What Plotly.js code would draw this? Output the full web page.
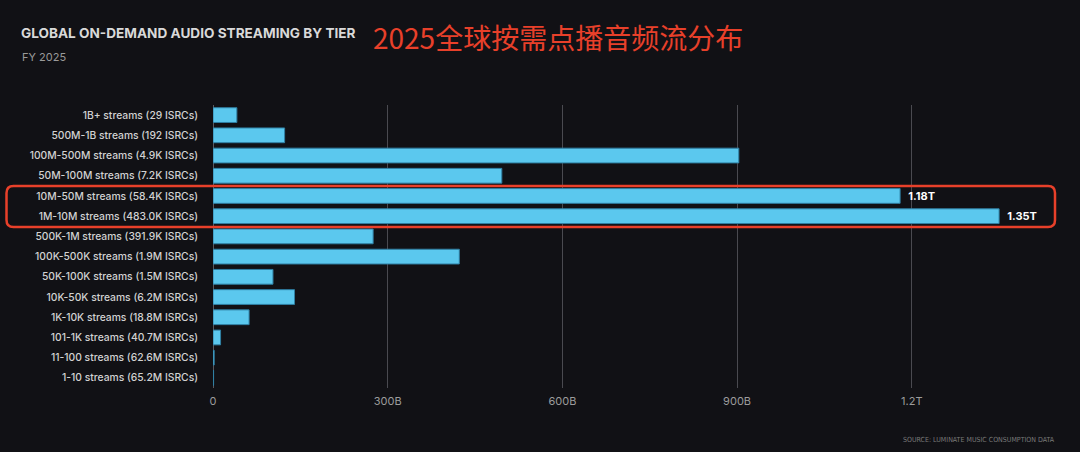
<!DOCTYPE html>
<html>
<head>
<meta charset="utf-8">
<script src="https://cdn.plot.ly/plotly-3.0.1.min.js"></script>
<style>
html,body{margin:0;padding:0;background:#111115;}
#chart{width:1080px;height:452px;}
</style>
</head>
<body>
<div id="chart"></div>
<script>
const tiers = [
  "1B+ streams (29 ISRCs)",
  "500M-1B streams (192 ISRCs)",
  "100M-500M streams (4.9K ISRCs)",
  "50M-100M streams (7.2K ISRCs)",
  "10M-50M streams (58.4K ISRCs)",
  "1M-10M streams (483.0K ISRCs)",
  "500K-1M streams (391.9K ISRCs)",
  "100K-500K streams (1.9M ISRCs)",
  "50K-100K streams (1.5M ISRCs)",
  "10K-50K streams (6.2M ISRCs)",
  "1K-10K streams (18.8M ISRCs)",
  "101-1K streams (40.7M ISRCs)",
  "11-100 streams (62.6M ISRCs)",
  "1-10 streams (65.2M ISRCs)"
];
// on-demand audio streams (billions)
const streamsB = [41, 123, 903, 496, 1180, 1350, 275, 423, 103, 140, 62, 13, 2, 1];
const valueLabels = ["", "", "", "", "1.18T", "1.35T", "", "", "", "", "", "", "", ""];
const tickVals = [0, 300, 600, 900, 1200];
const tickText = ["0", "300B", "600B", "900B", "1.2T"];

const streams = streamsB.map(v => v * 1e9);
const tv = tickVals.map(v => v * 1e9);

// plot area geometry (px)
const L = 213, R = 40, T = 105, B = 64, W = 1080, H = 452;
const pw = W - L - R, ph = H - T - B;
const px = x => (x - L) / pw;
const py = y => (H - B - y) / ph;

// rounded highlight box
function roundRect(x0, y0, x1, y1, r) {
  const rx = r / pw, ry = r / ph;
  const a = px(x0), b = px(x1), top = py(y0), bot = py(y1);
  return `M ${a + rx} ${top} L ${b - rx} ${top} Q ${b} ${top} ${b} ${top - ry} ` +
         `L ${b} ${bot + ry} Q ${b} ${bot} ${b - rx} ${bot} ` +
         `L ${a + rx} ${bot} Q ${a} ${bot} ${a} ${bot + ry} ` +
         `L ${a} ${top - ry} Q ${a} ${top} ${a + rx} ${top} Z`;
}

const trace = {
  type: "bar",
  orientation: "h",
  y: tiers,
  x: streams,
  text: valueLabels,
  texttemplate: "  %{text}",
  textposition: "outside",
  cliponaxis: false,
  textfont: {family: "Inter, sans-serif", size: 11, color: "#ffffff", weight: 700},
  marker: {color: "#5BC8EE", line: {color: "#2f7fa3", width: 1}},
  hoverinfo: "x+y"
};

const layout = {
  width: W, height: H,
  paper_bgcolor: "#111115",
  plot_bgcolor: "#111115",
  margin: {l: L, r: R, t: T, b: B},
  bargap: 0.27,
  showlegend: false,
  font: {family: "Inter, sans-serif", color: "#cfcfcf"},
  title: {
    text: "GLOBAL ON-DEMAND AUDIO STREAMING BY TIER",
    font: {family: "Inter, sans-serif", size: 13.6, color: "#d9d9d9", weight: 700},
    x: 21 / W, xanchor: "left", xref: "container",
    y: 1 - 33 / H, yanchor: "middle", yref: "container"
  },
  xaxis: {
    range: [0, pw / 0.5823 * 1e9],
    tickvals: tv,
    ticktext: tickText,
    showgrid: true,
    gridcolor: "#4a4a50",
    gridwidth: 1,
    zeroline: true,
    zerolinecolor: "#5a5a60",
    zerolinewidth: 1,
    showline: false,
    ticks: "",
    tickfont: {family: "Inter, sans-serif", size: 11, color: "#9c9c9c"},
    ticklabelstandoff: 5,
    fixedrange: true
  },
  yaxis: {
    type: "category",
    autorange: "reversed",
    showgrid: false,
    zeroline: false,
    showline: false,
    ticks: "",
    tickfont: {family: "Inter, sans-serif", size: 10.3, color: "#d2d2d2", weight: 500},
    ticklabelstandoff: 14,
    fixedrange: true
  },
  annotations: [
    {text: "FY 2025", xref: "paper", yref: "paper", x: px(20), y: py(57),
     xanchor: "left", yanchor: "middle", showarrow: false,
     font: {family: "Inter, sans-serif", size: 11, color: "#9a9a9a"}},
    {text: "2025全球按需点播音频流分布", xref: "paper", yref: "paper", x: px(371), y: py(37),
     xanchor: "left", yanchor: "middle", showarrow: false,
     font: {family: "Noto Sans CJK SC, sans-serif", size: 28, color: "#e8402a"}},
    {text: "SOURCE: LUMINATE MUSIC CONSUMPTION DATA", xref: "paper", yref: "paper", x: px(1057), y: py(440),
     xanchor: "right", yanchor: "middle", showarrow: false,
     font: {family: "Liberation Sans Narrow, DejaVu Sans Condensed, sans-serif", size: 7, color: "#7a7a7a"}}
  ],
  shapes: [
    {type: "path", xref: "paper", yref: "paper", path: roundRect(6.5, 186, 1055, 227, 7),
     line: {color: "#e8402a", width: 2.5}, fillcolor: "rgba(0,0,0,0)", layer: "above"}
  ]
};

Plotly.newPlot("chart", [trace], layout, {displayModeBar: false, staticPlot: true});
</script>
</body>
</html>
